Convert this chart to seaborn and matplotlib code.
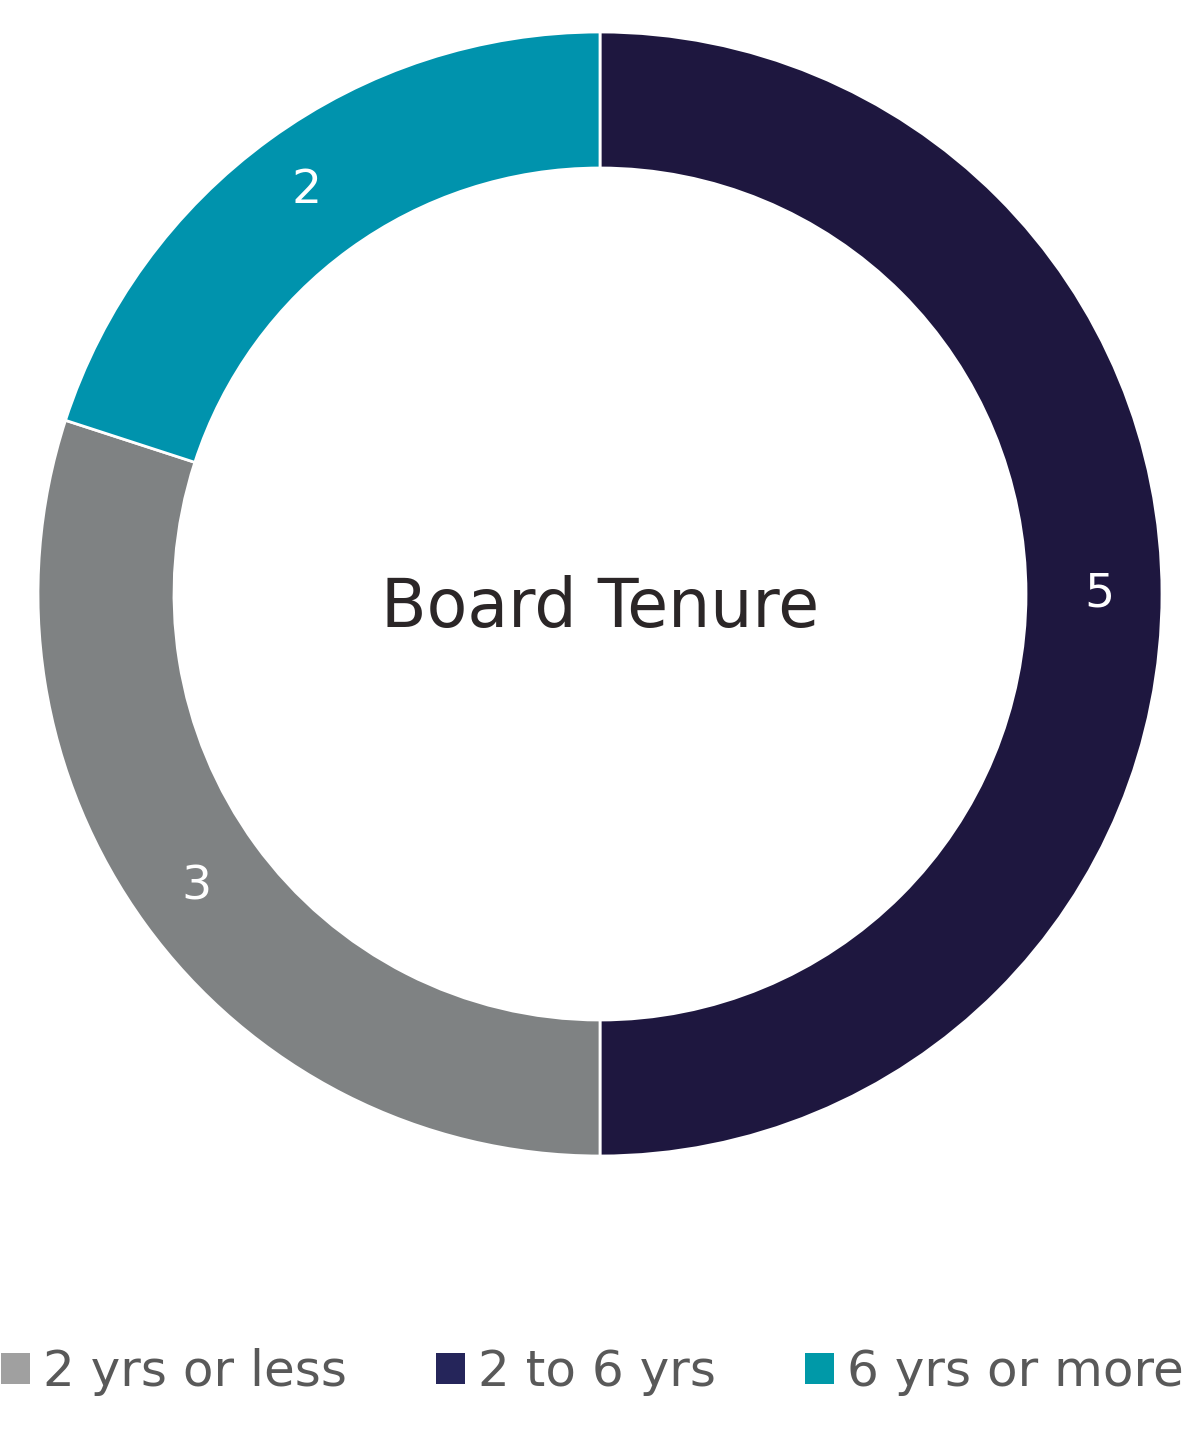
import matplotlib
matplotlib.use("Agg")
import matplotlib.pyplot as plt
import seaborn as sns
from matplotlib.patches import Patch

# board tenure counts, clockwise from 12 o'clock
slice_labels = ["2 to 6 yrs", "2 yrs or less", "6 yrs or more"]
slice_values = [5, 3, 2]
slice_colors = ["#1e173f", "#7f8283", "#0093ad"]

# legend order and swatch colours as shown in the reference
legend_labels = ["2 yrs or less", "2 to 6 yrs", "6 yrs or more"]
legend_colors = ["#a0a0a0", "#25255a", "#0099a8"]

title = "Board Tenure"


def main():
    sns.set_theme(style="white")
    plt.rcParams["font.family"] = ["DejaVu Sans"]

    fig = plt.figure(figsize=(12, 14.51), dpi=100)
    ax = fig.add_axes([0, 0, 1, 1])

    total = sum(slice_values)
    outer_r = 562
    ring_w = 136
    ax.pie(
        slice_values,
        colors=slice_colors,
        center=(600, 857),
        radius=outer_r,
        startangle=90,
        counterclock=False,
        autopct=lambda p: f"{round(p * total / 100)}",
        pctdistance=0.888,
        wedgeprops=dict(width=ring_w, edgecolor="white", linewidth=2),
        textprops=dict(color="white", fontsize=34),
    )
    ax.set_xlim(0, 1200)
    ax.set_ylim(0, 1451)
    ax.set_aspect("equal")
    ax.axis("off")

    ax.text(600, 843, title, ha="center", va="center",
            fontsize=48, color="#2b2627")

    handles = [Patch(facecolor=c, edgecolor="none") for c in legend_colors]
    fig.legend(
        handles, legend_labels,
        loc="center", bbox_to_anchor=(592 / 1200, 1 - 1372 / 1451),
        ncol=3, frameon=False, fontsize=36,
        handlelength=0.58, handleheight=0.58,
        handletextpad=0.26, columnspacing=1.78,
        labelcolor="#595959",
    )

    fig.savefig("out.png", dpi=100)


if __name__ == "__main__":
    main()
